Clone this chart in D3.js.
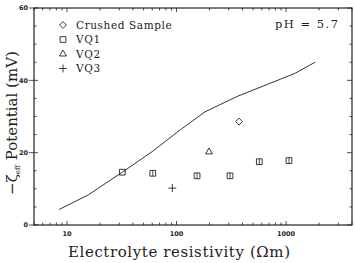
<!DOCTYPE html>
<html>
<head>
<meta charset="utf-8">
<script src="https://cdn.jsdelivr.net/npm/d3@7"></script>
<style>
  body { margin: 0; background: #fff; }
  svg { display: block; }
  .tick-lab { font-family: "DejaVu Sans", sans-serif; font-size: 6.5px; font-weight: bold; fill: #222; }
  .legend text { font-family: "DejaVu Serif", serif; font-size: 10.5px; fill: #222; letter-spacing: 0.6px; }
</style>
</head>
<body>
<svg id="chart" width="355" height="263"></svg>
<script>
// theory curve
var curveX = [8.5, 15.6, 32, 60, 108, 182, 355, 1200, 1840];
var curveY = [4.3, 8.3, 14.6, 20.3, 26.3, 31.3, 35.5, 41.9, 45.0];

// measured samples
var crushedX = [372];
var crushedY = [28.6];
var vq1X = [32, 60.7, 154, 308, 570, 1064];
var vq1Y = [14.6, 14.3, 13.6, 13.6, 17.5, 17.8];
var vq1Err = [0, 0.8, 0.8, 0.8, 0.8, 0.8];
var vq2X = [198];
var vq2Y = [20.2];
var vq3X = [91.6];
var vq3Y = [10.2];

var yTicks = [0, 20, 40, 60];
var xTicks = [10, 100, 1000];
var legendLabels = ['Crushed Sample', 'VQ1', 'VQ2', 'VQ3'];

var svg = d3.select('#chart');
var ink = '#222';

var x = d3.scaleLog().domain([5, 4000]).range([34, 352]);
var y = d3.scaleLinear().domain([0, 60]).range([225, 8]);

// frame
svg.append('rect')
    .attr('x', 34).attr('y', 8)
    .attr('width', 318).attr('height', 217)
    .attr('fill', 'none').attr('stroke', ink).attr('stroke-width', 1.2);

// x ticks, bottom and top, pointing inward
var minorX = [];
[1, 10, 100, 1000].forEach(function (dec) {
    for (var k = 1; k < 10; k++) {
        var v = dec * k;
        if (v >= 5 && v <= 4000) minorX.push(v);
    }
});
var g = svg.append('g').attr('stroke', ink).attr('stroke-width', 0.8);
minorX.forEach(function (v) {
    var len = xTicks.indexOf(v) >= 0 ? 4 : 2.5;
    g.append('line').attr('x1', x(v)).attr('x2', x(v)).attr('y1', 225).attr('y2', 225 - len);
    g.append('line').attr('x1', x(v)).attr('x2', x(v)).attr('y1', 8).attr('y2', 8 + len);
});

// y ticks, major crossing the frame on the left
d3.range(0, 61, 5).forEach(function (v) {
    var major = yTicks.indexOf(v) >= 0;
    g.append('line').attr('x1', major ? 29 : 34).attr('x2', major ? 38 : 36.5)
        .attr('y1', y(v)).attr('y2', y(v));
    g.append('line').attr('x1', 352).attr('x2', major ? 347 : 349.5)
        .attr('y1', y(v)).attr('y2', y(v));
});

svg.selectAll('.ylab').data(yTicks).enter().append('text')
    .attr('class', 'tick-lab')
    .attr('x', 28).attr('y', d => y(d) + 2.3)
    .attr('text-anchor', 'end')
    .text(d => d);

svg.selectAll('.xlab').data(xTicks).enter().append('text')
    .attr('class', 'tick-lab')
    .attr('x', d => x(d)).attr('y', 236)
    .attr('text-anchor', 'middle')
    .text(d => d);

// axis titles
svg.append('text')
    .attr('x', 179).attr('y', 257)
    .attr('text-anchor', 'middle')
    .attr('font-family', 'DejaVu Serif, serif')
    .attr('font-size', 15)
    .attr('fill', ink)
    .attr('textLength', 222)
    .text('Electrolyte resistivity (\u03A9m)');

var yt = svg.append('text')
    .attr('transform', 'translate(17,123) rotate(-90)')
    .attr('text-anchor', 'middle')
    .attr('font-family', 'DejaVu Serif, serif')
    .attr('font-size', 15)
    .attr('fill', ink);
yt.append('tspan').text('\u2212\u03B6');
yt.append('tspan').attr('font-size', 7).attr('dy', 3).text('eff');
yt.append('tspan').attr('dy', -3).text(' Potential (mV)');

svg.append('text')
    .attr('x', 275).attr('y', 28)
    .attr('font-family', 'DejaVu Serif, serif')
    .attr('font-size', 11.5)
    .attr('fill', ink)
    .attr('textLength', 63)
    .text('pH = 5.7');

// theory line
var line = d3.line().x(d => x(d[0])).y(d => y(d[1]));
svg.append('path')
    .datum(d3.zip(curveX, curveY))
    .attr('d', line)
    .attr('fill', 'none').attr('stroke', '#333').attr('stroke-width', 1);

// markers
var sym = {
    diamond: d3.symbol().type(d3.symbolDiamond2).size(30),
    square: d3.symbol().type(d3.symbolSquare2).size(42),
    triangle: d3.symbol().type(d3.symbolTriangle2).size(34),
    plus: d3.symbol().type(d3.symbolPlus).size(22)
};
function markers(xs, ys, shape) {
    svg.append('g').selectAll('path').data(d3.zip(xs, ys)).enter().append('path')
        .attr('transform', d => 'translate(' + x(d[0]) + ',' + y(d[1]) + ')')
        .attr('d', sym[shape])
        .attr('fill', 'none').attr('stroke', ink).attr('stroke-width', 0.9);
}
markers(crushedX, crushedY, 'diamond');
markers(vq1X, vq1Y, 'square');
markers(vq2X, vq2Y, 'triangle');
markers(vq3X, vq3Y, 'plus');

// error bars inside the VQ1 squares
svg.append('g').selectAll('line').data(d3.range(vq1X.length).filter(i => vq1Err[i] > 0))
    .enter().append('line')
    .attr('x1', i => x(vq1X[i])).attr('x2', i => x(vq1X[i]))
    .attr('y1', i => y(vq1Y[i] - vq1Err[i])).attr('y2', i => y(vq1Y[i] + vq1Err[i]))
    .attr('stroke', ink).attr('stroke-width', 0.8);

// legend
var lg = svg.append('g').attr('class', 'legend');
var shapes = ['diamond', 'square', 'triangle', 'plus'];
legendLabels.forEach(function (lab, i) {
    var cy = 25 + i * 14.5;
    lg.append('path')
        .attr('transform', 'translate(63,' + cy + ')')
        .attr('d', sym[shapes[i]])
        .attr('fill', 'none').attr('stroke', ink).attr('stroke-width', 0.9);
    lg.append('text').attr('x', 76).attr('y', cy + 3.5).text(lab);
});
</script>
</body>
</html>
